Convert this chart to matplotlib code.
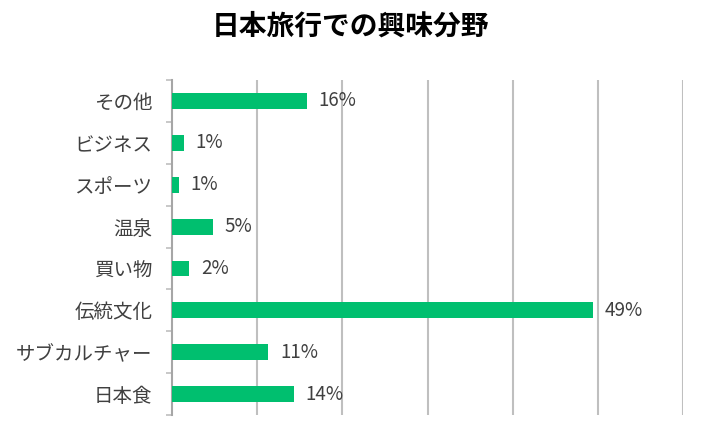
import numpy as np
import matplotlib.pyplot as plt

plt.rcParams['font.family'] = ['Noto Sans CJK JP', 'DejaVu Sans']

categories = ['その他', 'ビジネス', 'スポーツ', '温泉', '買い物', '伝統文化', 'サブカルチャー', '日本食']
values = [15.8, 1.4, 0.8, 4.8, 2.0, 49.4, 11.3, 14.3]
labels = ['16%', '1%', '1%', '5%', '2%', '49%', '11%', '14%']

text_color = '#404040'
grid_color = '#BFBFBF'
bar_color = '#00BF6F'

fig = plt.figure(figsize=(7.02, 4.42), dpi=100)
ax = fig.add_axes([0.245, 0.061, 0.728, 0.758])

y = np.arange(len(categories))
ax.barh(y, values, height=0.38, color=bar_color, zorder=3)

for yi, v, lab in zip(y, values, labels):
    ax.text(v + 1.4, yi, lab, va='center', ha='left', fontsize=13.5, color=text_color)

ax.set_xlim(0, 60)
ax.set_ylim(len(categories) - 0.5, -0.5)
ax.set_xticks(np.arange(10, 61, 10))
ax.xaxis.grid(True, color=grid_color, linewidth=1.5, zorder=0)
ax.tick_params(axis='x', length=0, labelbottom=False)

ax.set_yticks(y)
ax.set_yticklabels(categories, fontsize=14, color=text_color)
ax.set_yticks(np.arange(-0.5, len(categories), 1), minor=True)
ax.tick_params(axis='y', which='major', length=0, pad=14)
ax.tick_params(axis='y', which='minor', length=4, width=1.2, color=grid_color)

for s in ['top', 'right', 'bottom']:
    ax.spines[s].set_visible(False)
ax.spines['left'].set_color('#A6A6A6')
ax.spines['left'].set_linewidth(1.5)

fig.text(0.5, 0.94, '日本旅行での興味分野', ha='center', va='center',
         fontsize=20, fontweight='bold', color='black')

fig.savefig('out.png', dpi=100)
